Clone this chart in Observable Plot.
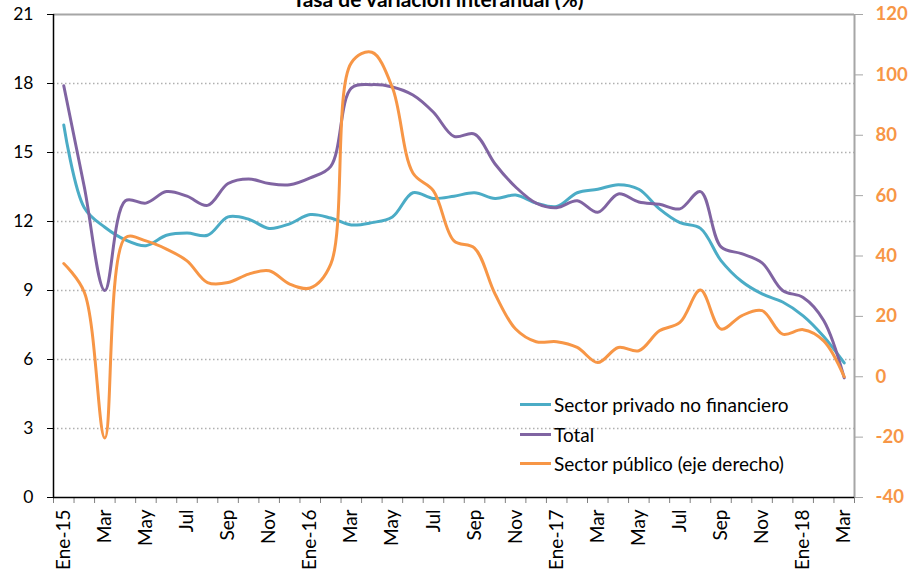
<!DOCTYPE html>
<html>
<head>
<meta charset="utf-8">
<script src="https://cdn.jsdelivr.net/npm/d3@7"></script>
<script src="https://cdn.jsdelivr.net/npm/@observablehq/plot@0.6"></script>
<style>
  html, body { margin: 0; padding: 0; background: #fff; overflow: hidden; }
  #wrap { position: relative; width: 909px; height: 574px; font-family: Lato, "Open Sans", sans-serif; }
  #title { position: absolute; left: 0; width: 876px; top: -12px; text-align: center; font-size: 21px; line-height: 21px; font-weight: bold; color: #000; }
  #legend { position: absolute; left: 520px; top: 390px; font-size: 19px; color: #000; }
  .row { display: flex; align-items: center; height: 29.5px; }
  .sw { width: 31px; height: 3px; margin-right: 3px; }
</style>
</head>
<body>
<div id="wrap">
  <div id="chart"></div>
  <div id="title">Tasa de variación interanual (%)</div>
  <div id="legend"></div>
</div>
<script>
const months = [
  "Ene-15","Feb-15","Mar-15","Abr-15","May-15","Jun-15","Jul-15","Ago-15","Sep-15","Oct-15","Nov-15","Dic-15",
  "Ene-16","Feb-16","Mar-16","Abr-16","May-16","Jun-16","Jul-16","Ago-16","Sep-16","Oct-16","Nov-16","Dic-16",
  "Ene-17","Feb-17","Mar-17","Abr-17","May-17","Jun-17","Jul-17","Ago-17","Sep-17","Oct-17","Nov-17","Dic-17",
  "Ene-18","Feb-18","Mar-18"
];
const tickLabels = ["Ene-15","Mar","May","Jul","Sep","Nov","Ene-16","Mar","May","Jul","Sep","Nov",
  "Ene-17","Mar","May","Jul","Sep","Nov","Ene-18","Mar"];

const privado = [16.2, 12.6, 11.75, 11.2, 10.95, 11.4, 11.5, 11.4, 12.2, 12.1, 11.7, 11.9,
  12.3, 12.15, 11.85, 11.95, 12.2, 13.25, 13.0, 13.1, 13.25, 13.0, 13.15, 12.8,
  12.65, 13.25, 13.4, 13.6, 13.4, 12.55, 11.95, 11.7, 10.3, 9.4, 8.85, 8.5,
  7.9, 7.0, 5.85];
const total = [17.9, 13.5, 9.0, 12.9, 12.8, 13.3, 13.1, 12.7, 13.65, 13.85, 13.65, 13.6,
  13.9, 14.4, 17.8, 17.95, 17.85, 17.5, 16.75, 15.7, 15.8, 14.5, 13.5, 12.8,
  12.6, 12.9, 12.4, 13.2, 12.85, 12.75, 12.55, 13.3, 10.9, 10.6, 10.2, 9.0,
  8.7, 7.7, 5.2];
const publico = [37.5, 28, -20.3, 46.1, 45, 42.3, 38.4, 31.2, 31.2, 34, 35.1, 30.7,
  29.4, 37.3, 104, 107.5, 95.8, 67.5, 61.6, 45, 42.6, 27.4, 15.8, 11.6,
  11.6, 9.7, 4.7, 9.7, 8.6, 15.2, 18, 28.7, 15.8, 20.2, 21.9, 14.1,
  15.6, 11.9, 0];

const leftTicks = [0, 3, 6, 9, 12, 15, 18, 21];
const rightTicks = [-40, -20, 0, 20, 40, 60, 80, 100, 120];
const gridTicks = [3, 6, 9, 12, 15, 18];

const seriesNames = ["Sector privado no financiero", "Total", "Sector público (eje derecho)"];
const colors = ["#4BACC6", "#8064A2", "#F79646"];

// right axis [-40,120] mapped onto left axis [0,21]
const toLeft = v => (v + 40) * 21 / 160;
const toRight = y => Math.round(y * 160 / 21 - 40);

const rows = [];
months.forEach((m, i) => {
  rows.push({i, s: seriesNames[0], y: privado[i]});
  rows.push({i, s: seriesNames[1], y: total[i]});
  rows.push({i, s: seriesNames[2], y: toLeft(publico[i])});
});

const n = months.length;
const boundaries = d3.range(n + 1).map(k => k - 0.5);
const labelPos = tickLabels.map((_, k) => k * 2);

const chart = Plot.plot({
  width: 909,
  height: 574,
  marginLeft: 53,
  marginRight: 55,
  marginTop: 14,
  marginBottom: 77,
  style: {fontFamily: "Lato, 'Open Sans', sans-serif", fontSize: "17px", color: "#000", background: "#fff"},
  x: {domain: [-0.5, n - 0.5], label: null},
  y: {domain: [0, 21], label: null},
  color: {domain: seriesNames, range: colors},
  marks: [
    Plot.ruleY(gridTicks, {stroke: "#b0b0b0", strokeWidth: 1.3, strokeDasharray: "1.5,2.5"}),
    Plot.ruleY([21], {stroke: "#a6a6a6", strokeWidth: 2}),
    Plot.ruleX([n - 0.5], {stroke: "#a6a6a6", strokeWidth: 2}),
    Plot.axisY({ticks: leftTicks, tickSize: 6, tickPadding: 14, stroke: "#000", fill: "#000", fontSize: 17.5, label: null}),
    Plot.axisY({anchor: "right", ticks: rightTicks.map(toLeft), tickFormat: toRight, tickSize: 8, tickPadding: 13,
      stroke: "#a6a6a6", fill: "#F79646", fontWeight: "bold", fontSize: 18.5, label: null}),
    Plot.axisX({ticks: boundaries, tickFormat: () => "", tickSize: 6, stroke: "#808080", label: null}),
    Plot.axisX({ticks: labelPos, tickFormat: i => tickLabels[i / 2], tickSize: 0, tickPadding: 12, tickRotate: -90, fill: "#000", fontSize: 19, label: null}),
    Plot.ruleX([-0.5], {stroke: "#000", strokeWidth: 1.5}),
    Plot.ruleY([0], {stroke: "#000", strokeWidth: 1.5}),
    Plot.line(rows, {x: "i", y: "y", z: "s", stroke: "s", strokeWidth: 3, curve: "catmull-rom"})
  ]
});
document.getElementById("chart").appendChild(chart);

const legend = document.getElementById("legend");
seriesNames.forEach((name, k) => {
  const row = document.createElement("div");
  row.className = "row";
  const sw = document.createElement("div");
  sw.className = "sw";
  sw.style.background = colors[k];
  const t = document.createElement("span");
  t.textContent = name;
  row.appendChild(sw);
  row.appendChild(t);
  legend.appendChild(row);
});
</script>
</body>
</html>
